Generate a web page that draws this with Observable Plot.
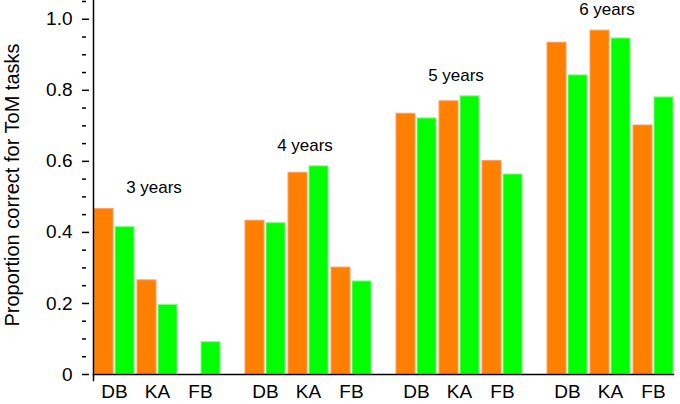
<!DOCTYPE html>
<html><head><meta charset="utf-8">
<script src="https://cdn.jsdelivr.net/npm/d3@7"></script>
<script src="https://cdn.jsdelivr.net/npm/@observablehq/plot@0.6"></script>
<style>body{margin:0;background:#fff}</style>
</head><body><div id="chart"></div>
<script>
const ages = ["3 years", "4 years", "5 years", "6 years"];
const tasks = ["DB", "KA", "FB"];
// orange series (per age group: DB, KA, FB)
const orangeValues = [[0.466, 0.265, 0], [0.433, 0.568, 0.301], [0.734, 0.769, 0.601], [0.934, 0.968, 0.701]];
// green series (per age group: DB, KA, FB)
const greenValues = [[0.415, 0.196, 0.091], [0.426, 0.586, 0.262], [0.721, 0.783, 0.563], [0.842, 0.946, 0.780]];
const yTicks = [0, 0.2, 0.4, 0.6, 0.8, 1.0];
const yMinorTicks = [0.05, 0.1, 0.15, 0.25, 0.3, 0.35, 0.45, 0.5, 0.55, 0.65, 0.7, 0.75, 0.85, 0.9, 0.95, 1.05];
const yLabel = "Proportion correct for ToM tasks";

const toRows = (vals) => ages.flatMap((age, i) => tasks.map((task, j) => ({age, task, value: vals[i][j]})));
const orangeRows = toRows(orangeValues);
const greenRows = toRows(greenValues);
const groupMax = ages.map((age, i) => ({age, max: d3.max([...orangeValues[i], ...greenValues[i]])}));

const chart = Plot.plot({
  width: 680,
  height: 404,
  marginLeft: 82,
  marginRight: 0,
  marginTop: 1,
  marginBottom: 30,
  style: {fontFamily: "'Liberation Sans', Arial, sans-serif", fontSize: "19px", background: "white", color: "black", overflow: "visible"},
  fx: {domain: ages, paddingInner: 0.159, paddingOuter: 0.0596, align: 0.611, axis: null},
  x: {domain: tasks, paddingInner: 0.08, paddingOuter: 0, axis: null},
  y: {domain: [0, 1.05], axis: null},
  marks: [
    Plot.barY(orangeRows, {fx: "age", x: "task", y: "value", fill: "#FF7F00", stroke: "#FFA060", strokeWidth: 1, insetRight: 21}),
    Plot.barY(greenRows, {fx: "age", x: "task", y: "value", fill: "#00FF00", stroke: "#80FF80", strokeWidth: 1, insetLeft: 21}),
    Plot.text(groupMax, {fx: "age", y: "max", text: "age", dy: -21, dx: -3, fontSize: 17, fill: "black"}),
    Plot.axisX({tickSize: 0, tickPadding: 10, fontSize: 19, label: null}),
    Plot.frame({anchor: "bottom", facet: "super", strokeWidth: 1.5}),
    Plot.frame({anchor: "left", facet: "super", insetTop: -1, insetBottom: -6, strokeWidth: 1.5}),
    Plot.axisY({ticks: yTicks, tickSize: 0, tickPadding: 10, dx: -11, fontSize: 19, label: null,
      tickFormat: d => d === 0 ? "0" : d.toFixed(1)}),
    Plot.axisY({ticks: yTicks, tickSize: -7, dx: -11, strokeWidth: 1.5, label: null, tickFormat: () => ""}),
    Plot.axisY({ticks: yMinorTicks, tickSize: -4, dx: -11, strokeWidth: 1.5, label: null, tickFormat: () => ""}),
    Plot.text([yLabel], {facet: "super", frameAnchor: "left", textAnchor: "middle", rotate: -90, dx: -81, dy: -3, fontSize: 20, lineAnchor: "middle", fill: "black"})
  ]
});
document.getElementById("chart").appendChild(chart);
</script>
</body></html>
